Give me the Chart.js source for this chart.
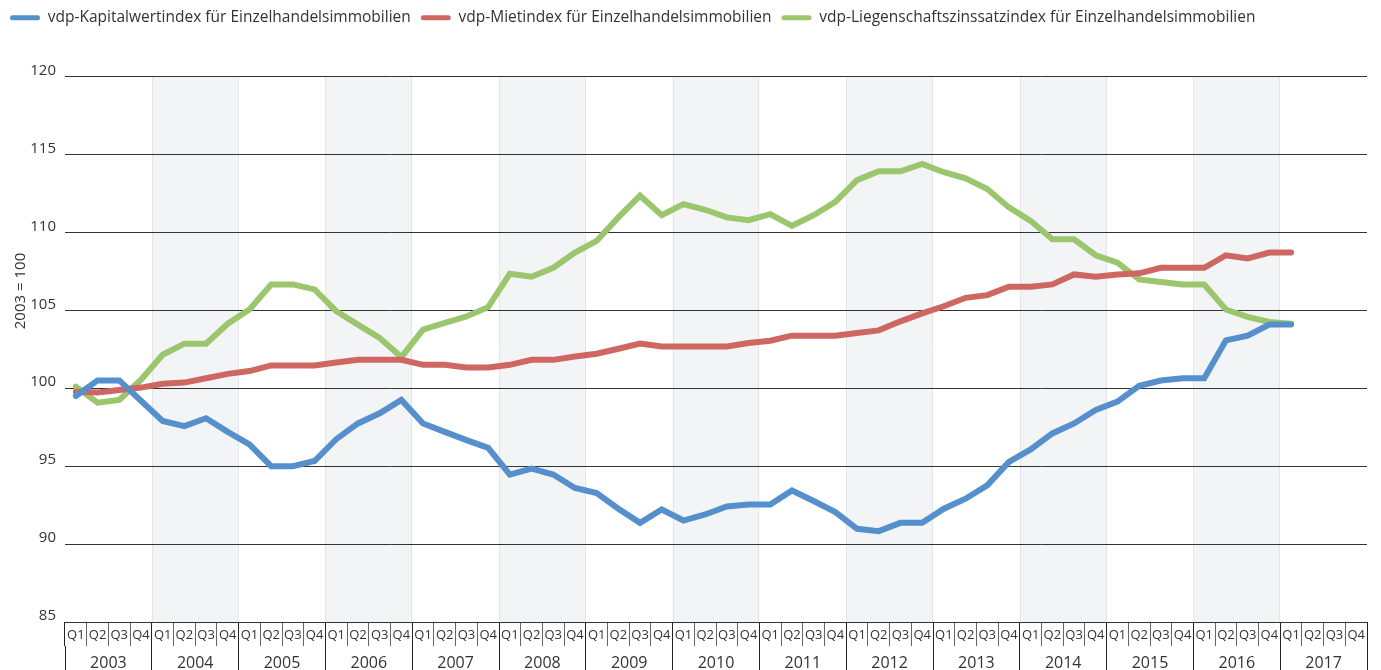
<!DOCTYPE html>
<html><head><meta charset="utf-8">
<script src="https://cdn.jsdelivr.net/npm/chart.js@4/dist/chart.umd.min.js"></script>
<style>html,body{margin:0;padding:0;background:#fff}#wrap{width:1381px;height:670px;position:relative}</style>
</head><body><div id="wrap"><canvas id="c" width="1381" height="670"></canvas></div>
<script>
const years = ['2003','2004','2005','2006','2007','2008','2009','2010','2011','2012','2013','2014','2015','2016','2017'];
const quarters = ['Q1','Q2','Q3','Q4'];
const seriesNames = [
  'vdp-Kapitalwertindex für Einzelhandelsimmobilien',
  'vdp-Mietindex für Einzelhandelsimmobilien',
  'vdp-Liegenschaftszinssatzindex für Einzelhandelsimmobilien'
];
const kapitalwert = [99.5,100.5,100.5,99.2,97.9,97.57,98.07,97.2,96.4,95.0,95.0,95.33,96.73,97.74,98.39,99.25,97.74,97.2,96.67,96.17,
  94.46,94.84,94.46,93.6,93.27,92.27,91.36,92.22,91.51,91.9,92.41,92.54,92.54,93.44,92.76,92.05,90.98,90.83,91.36,91.36,
  92.27,92.91,93.77,95.27,96.07,97.1,97.74,98.6,99.14,100.15,100.49,100.64,100.64,103.07,103.37,104.08,104.08];
const miete = [99.78,99.72,99.89,100.04,100.28,100.36,100.64,100.92,101.1,101.46,101.46,101.46,101.65,101.82,101.82,101.82,101.5,101.5,101.33,101.33,
  101.5,101.82,101.82,102.04,102.21,102.53,102.86,102.68,102.68,102.68,102.68,102.9,103.05,103.37,103.37,103.37,103.54,103.71,104.29,104.8,
  105.26,105.8,105.97,106.51,106.51,106.66,107.3,107.15,107.3,107.37,107.73,107.73,107.73,108.53,108.33,108.7,108.7];
const liegenschaftszins = [100.1,99.07,99.25,100.54,102.15,102.86,102.86,104.14,105.05,106.66,106.66,106.34,104.94,104.08,103.22,102.0,103.76,104.19,104.6,105.2,
  107.35,107.15,107.73,108.7,109.45,110.96,112.35,111.1,111.81,111.45,110.96,110.78,111.17,110.42,111.1,111.96,113.35,113.92,113.92,114.39,
  113.86,113.47,112.78,111.6,110.74,109.56,109.56,108.53,108.06,106.98,106.81,106.66,106.66,105.05,104.58,104.25,104.14];
const yTicks = [85,90,95,100,105,110,115,120];
const yTitle = '2003 = 100';

const categories = [];
years.forEach(y => quarters.forEach(q => categories.push(y + ' ' + q)));

const FONT = "'Open Sans', 'Noto Sans', sans-serif";
const TXT = '#333';

const bandPlugin = {
  id: 'bands',
  beforeDraw(chart) {
    const {ctx, chartArea, scales} = chart;
    const x = scales.x;
    const half = (x.getPixelForValue(1) - x.getPixelForValue(0)) / 2;
    ctx.save();
    years.forEach((y, yi) => {
      if (yi % 2 !== 1) return;
      const l = x.getPixelForValue(yi * 4) - half;
      const r = x.getPixelForValue(yi * 4 + 3) + half;
      ctx.fillStyle = '#f3f4f6';
      ctx.fillRect(l, chartArea.top, r - l, chartArea.bottom - chartArea.top);
      ctx.strokeStyle = '#e3e5e9';
      ctx.lineWidth = 1;
      ctx.beginPath();
      ctx.moveTo(Math.round(l) + 0.5, chartArea.top); ctx.lineTo(Math.round(l) + 0.5, chartArea.bottom);
      ctx.moveTo(Math.round(r) - 0.5, chartArea.top); ctx.lineTo(Math.round(r) - 0.5, chartArea.bottom);
      ctx.stroke();
    });
    ctx.restore();
  }
};
const yTitlePlugin = {
  id: 'ytitle',
  afterDraw(chart) {
    const {ctx} = chart;
    ctx.save();
    ctx.translate(21, 291);
    ctx.rotate(-Math.PI / 2);
    ctx.font = '15px ' + FONT;
    ctx.fillStyle = TXT;
    ctx.textAlign = 'center';
    ctx.textBaseline = 'middle';
    ctx.fillText(yTitle, 0, 0);
    ctx.restore();
  }
};

const colors = ['#5590cd', '#ce6661', '#9cc66e'];
const seriesData = [kapitalwert, miete, liegenschaftszins];

new Chart(document.getElementById('c'), {
  type: 'line',
  data: {
    labels: categories,
    datasets: seriesData.map((d, i) => ({
      label: seriesNames[i], data: d,
      borderColor: colors[i], backgroundColor: colors[i],
      borderWidth: 6, pointRadius: 0, tension: 0, fill: false,
      borderCapStyle: 'round', borderJoinStyle: 'miter'
    }))
  },
  options: {
    responsive: false, animation: false,
    layout: {padding: {left: 0, right: 14, top: 0, bottom: 0}},
    plugins: {
      legend: {
        position: 'top', align: 'start',
        labels: {boxWidth: 30, boxHeight: 5, useBorderRadius: true, borderRadius: 2.5, padding: 10,
          color: TXT, font: {size: 15.5, family: FONT},
          generateLabels: chart => Chart.defaults.plugins.legend.labels.generateLabels(chart)
            .map(l => Object.assign(l, {lineWidth: 0, strokeStyle: 'rgba(0,0,0,0)'}))}
      },
      title: {display: true, text: ' ', position: 'top', weight: 500,
        font: {size: 10}, padding: {top: 0, bottom: 29}},
      tooltip: {enabled: false}
    },
    scales: {
      x: {
        type: 'category', position: 'bottom', offset: true, weight: 0,
        grid: {display: true, drawOnChartArea: false, offset: true, tickLength: 24,
          color: c => (c.index === undefined || c.index % 4 === 0) ? '#222' : '#666'},
        border: {display: false},
        ticks: {autoSkip: false, maxRotation: 0, minRotation: 0, padding: -19, color: TXT,
          font: {size: 13, family: FONT}, callback: (v, i) => quarters[i % 4]},
        afterFit: s => { s.height = 24; }
      },
      x2: {
        type: 'category', labels: years, position: 'bottom', offset: true, weight: 1,
        grid: {display: true, drawOnChartArea: false, offset: true, tickLength: 30, color: '#222'},
        border: {display: false},
        ticks: {autoSkip: false, maxRotation: 0, minRotation: 0, padding: -22, color: TXT,
          font: {size: 16, family: FONT}},
        afterFit: s => { s.height = 24; }
      },
      y: {
        min: yTicks[0], max: yTicks[yTicks.length - 1],
        afterBuildTicks: s => { s.ticks = yTicks.map(v => ({value: v})); },
        grid: {color: '#333', drawTicks: false, lineWidth: 1},
        border: {display: false},
        ticks: {padding: 9, labelOffset: -6, color: TXT, font: {size: 15, family: FONT}},
        afterFit: s => { s.width = 65; }
      }
    }
  },
  plugins: [bandPlugin, yTitlePlugin]
});
</script>
</body></html>
